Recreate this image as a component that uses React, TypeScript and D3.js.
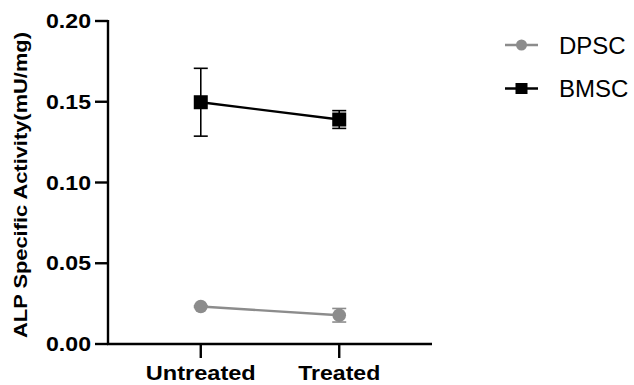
import React from 'react';
import * as d3 from 'd3';

const categories = ['Untreated', 'Treated'];
const dpscMean = [0.0232, 0.0178];
const dpscErr = [0.0005, 0.0042];
const bmscMean = [0.1497, 0.1390];
const bmscErr = [0.0210, 0.0055];
const yTicks = [0, 0.05, 0.1, 0.15, 0.2];

const series = [
  { name: 'DPSC', mean: dpscMean, err: dpscErr, color: '#8c8c8c', shape: 'circle' },
  { name: 'BMSC', mean: bmscMean, err: bmscErr, color: '#000000', shape: 'square' },
];

const App = () => {
  const width = 634;
  const height = 385;
  const left = 108;
  const right = 432;
  const top = 21;
  const bottom = 344;

  const x = d3.scalePoint().domain(categories).range([left, right]).padding(0.67);
  const y = d3.scaleLinear().domain([0, 0.2]).range([bottom, top]);
  const line = d3.line<number>()
    .x((d, i) => x(categories[i]) as number)
    .y((d) => y(d));

  const font = '"Liberation Sans", Arial, sans-serif';
  // x label widths as measured in the reference
  const xLabelWidth: Record<string, number> = { Untreated: 110, Treated: 82 };

  return (
    <svg width={width} height={height} style={{ position: 'absolute', left: 0, top: 0 }}>
      {/* axes */}
      <line x1={left} x2={left} y1={top - 1} y2={bottom + 1} stroke="#000" strokeWidth={2.4} />
      <line x1={left - 1} x2={right} y1={bottom} y2={bottom} stroke="#000" strokeWidth={2.4} />
      {yTicks.map((t) => (
        <g key={t}>
          <line x1={left - 13} x2={left} y1={y(t)} y2={y(t)} stroke="#000" strokeWidth={2.4} />
          <text x={left - 17} y={y(t) + 7} textAnchor="end" fontFamily={font}
            fontWeight="bold" fontSize={20} textLength={45} lengthAdjust="spacingAndGlyphs">
            {d3.format('.2f')(t)}
          </text>
        </g>
      ))}
      {categories.map((c) => (
        <g key={c}>
          <line x1={x(c)} x2={x(c)} y1={bottom} y2={bottom + 14} stroke="#000" strokeWidth={2.4} />
          <text x={x(c)} y={380} textAnchor="middle" fontFamily={font}
            fontWeight="bold" fontSize={21} textLength={xLabelWidth[c]} lengthAdjust="spacingAndGlyphs">
            {c}
          </text>
        </g>
      ))}
      <text transform={`translate(27,185) rotate(-90)`} textAnchor="middle"
        fontFamily={font} fontWeight="bold" fontSize={17.5} textLength={306}
        lengthAdjust="spacingAndGlyphs">ALP Specific Activity(mU/mg)</text>

      {/* series */}
      {series.map((s) => (
        <g key={s.name}>
          {s.mean.map((m, i) => {
            const cx = x(categories[i]) as number;
            return (
              <g key={i} stroke={s.color} strokeWidth={1.6}>
                <line x1={cx} x2={cx} y1={y(m + s.err[i])} y2={y(m - s.err[i])} />
                <line x1={cx - 7} x2={cx + 7} y1={y(m + s.err[i])} y2={y(m + s.err[i])} />
                <line x1={cx - 7} x2={cx + 7} y1={y(m - s.err[i])} y2={y(m - s.err[i])} />
              </g>
            );
          })}
          <path d={line(s.mean) || ''} fill="none" stroke={s.color} strokeWidth={2.4} />
          {s.mean.map((m, i) => {
            const cx = x(categories[i]) as number;
            return s.shape === 'circle'
              ? <circle key={i} cx={cx} cy={y(m)} r={6.8} fill={s.color} />
              : <rect key={i} x={cx - 7} y={y(m) - 7} width={14} height={14} fill={s.color} />;
          })}
        </g>
      ))}

      {/* legend */}
      {series.map((s, i) => {
        const ly = 45 + i * 43.5;
        return (
          <g key={s.name}>
            <line x1={505} x2={538} y1={ly} y2={ly} stroke={s.color} strokeWidth={2.4} />
            {s.shape === 'circle'
              ? <circle cx={521.5} cy={ly} r={5.5} fill={s.color} />
              : <rect x={515.5} y={ly - 5.5} width={12} height={11} fill={s.color} />}
            <text x={559} y={ly + 8.5} fontFamily={font} fontSize={24}>{s.name}</text>
          </g>
        );
      })}
    </svg>
  );
};

export default App;
